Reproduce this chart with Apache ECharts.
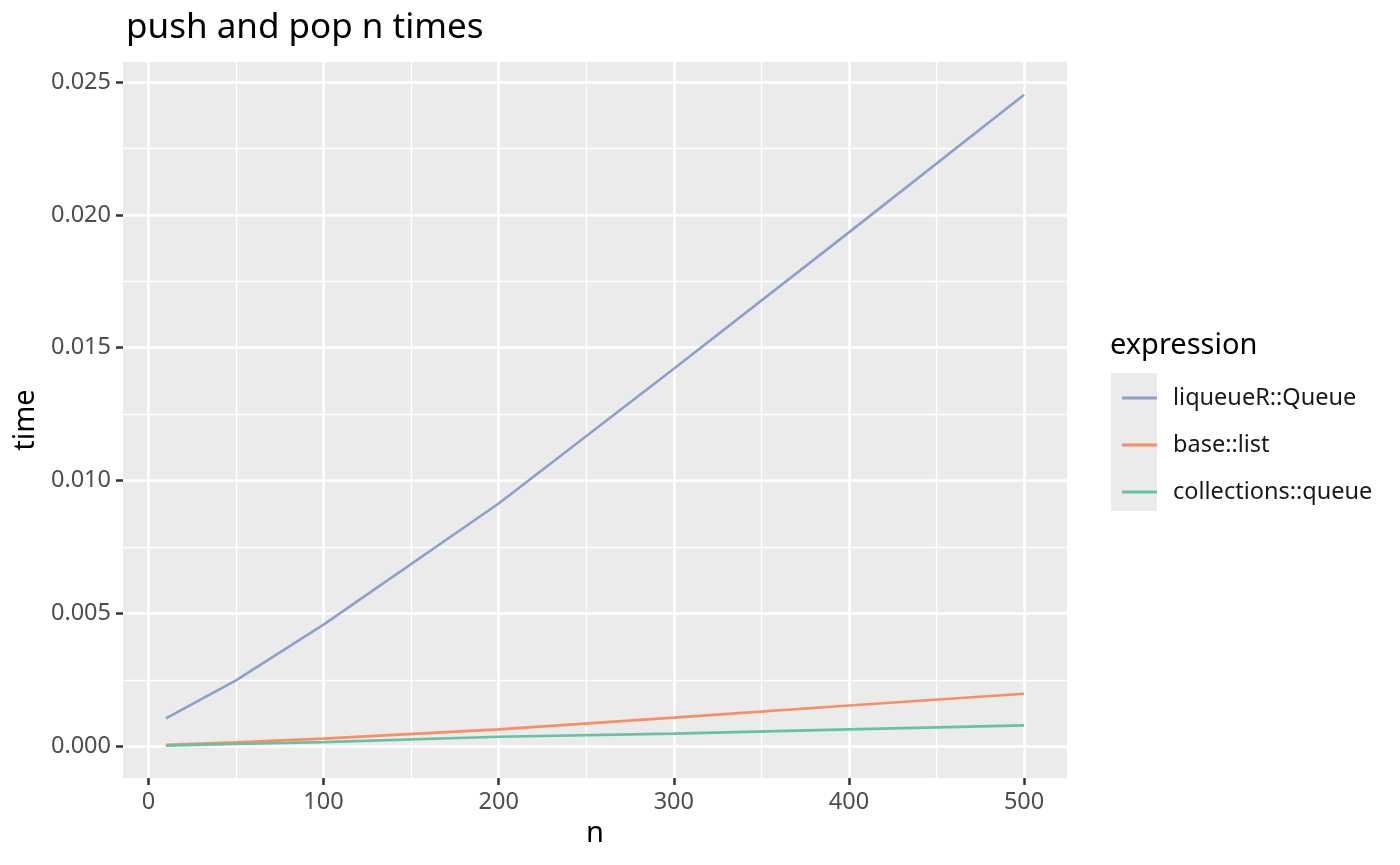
<!DOCTYPE html>
<html>
<head>
<meta charset="utf-8">
<script src="https://cdn.jsdelivr.net/npm/echarts@6/dist/echarts.min.js"></script>
<style>
  html, body { margin: 0; padding: 0; background: #fff; }
  #main { width: 1400px; height: 865px; }
</style>
</head>
<body>
<div id="main"></div>
<script>
var nValues = [10, 50, 100, 200, 300, 400, 500];
var liqueueTimes = [0.00105, 0.00248, 0.00458, 0.00914, 0.01421, 0.01934, 0.02452];
var baseListTimes = [0.00006, 0.00015, 0.00029, 0.00064, 0.00108, 0.00154, 0.00198];
var collectionsTimes = [0.00003, 0.00009, 0.00016, 0.00036, 0.00048, 0.00064, 0.00079];
var seriesNames = ['liqueueR::Queue', 'base::list', 'collections::queue'];
var seriesColors = ['#8DA0CB', '#FC8D62', '#66C2A5'];
var xMajorTicks = [0, 100, 200, 300, 400, 500];
var xMinorTicks = [50, 150, 250, 350, 450];
var yMajorTicks = [0, 0.005, 0.010, 0.015, 0.020, 0.025];
var yMinorTicks = [0.0025, 0.0075, 0.0125, 0.0175, 0.0225];

(function () {
    var myChart = echarts.init(document.getElementById('main'));
    var font = '"Noto Sans", "Open Sans", sans-serif';

    function pairs(ys) {
        return nValues.map(function (n, i) { return [n, ys[i]]; });
    }

    // ggplot style 5% expansion around the data
    var xMin = -14.5, xMax = 524.5;
    var yMin = -0.00119, yMax = 0.02575;

    var tickStyle = { color: '#333333', width: 2.5 };

    var option = {
        backgroundColor: '#ffffff',
        animation: false,
        title: {
            text: 'push and pop n times',
            left: 121,
            top: 6,
            textStyle: { fontFamily: font, fontSize: 35, fontWeight: 'normal', color: '#000' }
        },
        graphic: [
            {
                type: 'rect',
                left: 1111,
                top: 373,
                shape: { width: 46, height: 138 },
                style: { fill: '#ebebeb' },
                z: -1
            },
            {
                type: 'text',
                left: 1110,
                top: 331,
                style: { text: 'expression', fontFamily: font, fontSize: 29, fill: '#000' }
            }
        ],
        legend: {
            orient: 'vertical',
            left: 1117,
            top: 381,
            itemWidth: 35,
            itemHeight: 3,
            itemGap: 23,
            icon: 'rect',
            data: seriesNames,
            textStyle: { fontFamily: font, fontSize: 23.5, lineHeight: 24, color: '#1a1a1a', padding: [0, 0, 0, 11] }
        },
        grid: [
            { left: 123, top: 62, width: 944, height: 716, show: true, backgroundColor: '#ebebeb', borderWidth: 0 }
        ],
        xAxis: [
            {
                type: 'value', min: xMin, max: xMax,
                name: 'n', nameLocation: 'middle', nameGap: 38,
                nameTextStyle: { fontFamily: font, fontSize: 29, color: '#000' },
                axisLine: { show: false, onZero: false },
                axisTick: { show: true, length: 7, lineStyle: tickStyle, customValues: xMajorTicks },
                axisLabel: { customValues: xMajorTicks, fontFamily: font, fontSize: 23.5, color: '#4d4d4d', margin: 12 },
                splitLine: { show: true, lineStyle: { color: '#ffffff', width: 2.6 } },
                z: 2
            },
            {
                type: 'value', min: xMin, max: xMax,
                axisLine: { show: false, onZero: false },
                axisTick: { show: false, customValues: xMinorTicks },
                axisLabel: { show: false, customValues: xMinorTicks },
                splitLine: { show: true, lineStyle: { color: '#ffffff', width: 1.3 } },
                z: 1
            }
        ],
        yAxis: [
            {
                type: 'value', min: yMin, max: yMax,
                name: 'time', nameLocation: 'middle', nameGap: 80, nameRotate: 90,
                nameTextStyle: { fontFamily: font, fontSize: 29, color: '#000' },
                axisLine: { show: false, onZero: false },
                axisTick: { show: true, length: 7, lineStyle: tickStyle, customValues: yMajorTicks },
                axisLabel: {
                    customValues: yMajorTicks, fontFamily: font, fontSize: 23.5, color: '#4d4d4d', margin: 12,
                    formatter: function (v) { return v.toFixed(3); }
                },
                splitLine: { show: true, lineStyle: { color: '#ffffff', width: 2.6 } },
                z: 2
            },
            {
                type: 'value', min: yMin, max: yMax,
                axisLine: { show: false, onZero: false },
                axisTick: { show: false, customValues: yMinorTicks },
                axisLabel: { show: false, customValues: yMinorTicks },
                splitLine: { show: true, lineStyle: { color: '#ffffff', width: 1.3 } },
                z: 1
            }
        ],
        series: [
            {
                name: seriesNames[0], type: 'line', data: pairs(liqueueTimes),
                symbol: 'none', color: seriesColors[0],
                lineStyle: { width: 2.6, color: seriesColors[0] }, z: 5
            },
            {
                name: seriesNames[1], type: 'line', data: pairs(baseListTimes),
                symbol: 'none', color: seriesColors[1],
                lineStyle: { width: 2.6, color: seriesColors[1] }, z: 5
            },
            {
                name: seriesNames[2], type: 'line', data: pairs(collectionsTimes),
                symbol: 'none', color: seriesColors[2],
                lineStyle: { width: 2.6, color: seriesColors[2] }, z: 5
            }
        ]
    };
    myChart.setOption(option);
})();
</script>
</body>
</html>
